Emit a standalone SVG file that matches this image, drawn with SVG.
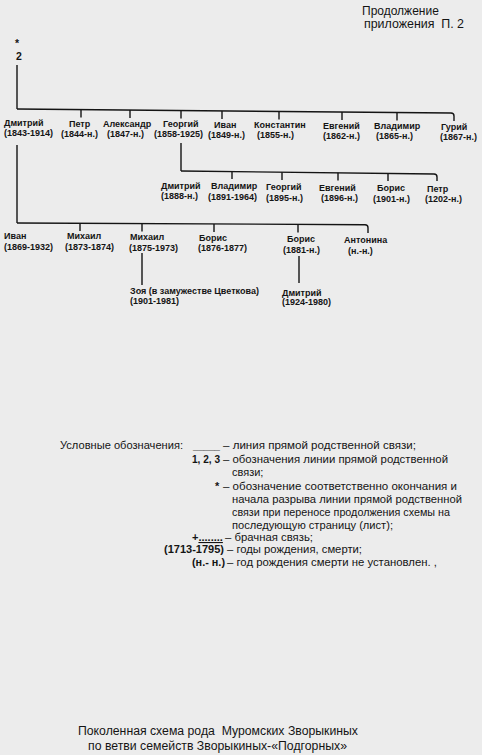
<svg xmlns="http://www.w3.org/2000/svg" width="482" height="755" viewBox="0 0 482 755">
<style>
.n{font-family:"Liberation Sans",Arial,sans-serif;font-size:9px;font-weight:bold;fill:#141414}
.l{font-family:"Liberation Sans",Arial,sans-serif;font-size:11px;fill:#141414}
.lb{font-family:"Liberation Sans",Arial,sans-serif;font-size:11px;font-weight:bold;fill:#141414}
.t{font-family:"Liberation Sans",Arial,sans-serif;font-size:12px;fill:#141414}
.m{font-family:"Liberation Sans",Arial,sans-serif;font-size:10.5px;font-weight:bold;fill:#141414}
.c{fill:none;stroke:#141414;stroke-width:1.4}
</style>
<rect width="482" height="755" fill="#ececec"/>
<g id="header">
<text class="t" x="362" y="15">Продолжение</text>
<text class="t" x="364" y="28" xml:space="preserve" textLength="100" lengthAdjust="spacingAndGlyphs">приложения  П. 2</text>
</g>
<g id="marker-2">
<text class="m" x="15" y="47">*</text>
<text class="m" x="16" y="60">2</text>
</g>
<g id="connectors">
<path class="c" stroke-width="1.8" d="M17 65V109M17 145V223"/>
<path class="c" d="M17 109L451 113Q454 113 454 116V121"/>
<path class="c" d="M81 109.6V117.5M130 110V118M181 110.5V118.5M222 111V119M279 111.4V119.5M342 112V120M397 112.5V120.5"/>
<path class="c" stroke-width="1.6" d="M181 143V171"/>
<path class="c" d="M181 171L434 174Q437 174 437 177V181"/>
<path class="c" d="M232 171.6V179M282 172.2V180M338 172.8V180.5M388 173.4V181"/>
<path class="c" d="M17 223L365 224.7Q368 224.7 368 227.7V233"/>
<path class="c" d="M80 223.3V231M142 223.6V231.5M214 224V232M298 224.3V232.5"/>
<path class="c" stroke-width="1.6" d="M142 253V285M299 256V283"/>
</g>
<g id="g1-dmitriy"><text class="n" x="4" y="126">Дмитрий</text><text class="n" x="4" y="136">(1843-1914)</text></g>
<g id="g1-petr"><text class="n" x="69" y="126.5">Петр</text><text class="n" x="61" y="136.5">(1844-н.)</text></g>
<g id="g1-aleksandr"><text class="n" x="103" y="127">Александр</text><text class="n" x="107" y="137">(1847-н.)</text></g>
<g id="g1-georgiy"><text class="n" x="163" y="127">Георгий</text><text class="n" x="154" y="137">(1858-1925)</text></g>
<g id="g1-ivan"><text class="n" x="214" y="127.5">Иван</text><text class="n" x="208" y="137.5">(1849-н.)</text></g>
<g id="g1-konstantin"><text class="n" x="254" y="128">Константин</text><text class="n" x="257" y="138">(1855-н.)</text></g>
<g id="g1-evgeniy"><text class="n" x="323" y="128.5">Евгений</text><text class="n" x="323" y="138.5">(1862-н.)</text></g>
<g id="g1-vladimir"><text class="n" x="374" y="129">Владимир</text><text class="n" x="376" y="139">(1865-н.)</text></g>
<g id="g1-guriy"><text class="n" x="441" y="129.5">Гурий</text><text class="n" x="440" y="139.5">(1867-н.)</text></g>
<g id="g2-dmitriy"><text class="n" x="161" y="188.5">Дмитрий</text><text class="n" x="161" y="199">(1888-н.)</text></g>
<g id="g2-vladimir"><text class="n" x="211" y="189">Владимир</text><text class="n" x="208" y="199.5">(1891-1964)</text></g>
<g id="g2-georgiy"><text class="n" x="266" y="190">Георгий</text><text class="n" x="266" y="200.5">(1895-н.)</text></g>
<g id="g2-evgeniy"><text class="n" x="319" y="190.5">Евгений</text><text class="n" x="321" y="201">(1896-н.)</text></g>
<g id="g2-boris"><text class="n" x="377" y="191">Борис</text><text class="n" x="373" y="201.5">(1901-н.)</text></g>
<g id="g2-petr"><text class="n" x="427" y="191.5">Петр</text><text class="n" x="425" y="202">(1202-н.)</text></g>
<g id="g3-ivan"><text class="n" x="4" y="238.5">Иван</text><text class="n" x="4" y="249.5">(1869-1932)</text></g>
<g id="g3-mikhail1"><text class="n" x="67" y="239">Михаил</text><text class="n" x="65" y="250">(1873-1874)</text></g>
<g id="g3-mikhail2"><text class="n" x="130" y="239.5">Михаил</text><text class="n" x="129" y="250.5">(1875-1973)</text></g>
<g id="g3-boris1"><text class="n" x="199" y="240.5">Борис</text><text class="n" x="198" y="251">(1876-1877)</text></g>
<g id="g3-boris2"><text class="n" x="287" y="242">Борис</text><text class="n" x="283" y="253">(1881-н.)</text></g>
<g id="g3-antonina"><text class="n" x="344" y="243">Антонина</text><text class="n" x="348" y="253.5">(н.-н.)</text></g>
<g id="g4-zoya"><text class="n" x="130" y="294">Зоя (в замужестве Цветкова)</text><text class="n" x="130" y="303.5">(1901-1981)</text></g>
<g id="g4-dmitriy"><text class="n" x="282" y="295.5">Дмитрий</text><text class="n" x="282" y="305">(1924-1980)</text></g>
<g id="legend">
<text class="l" x="60" y="449" textLength="123" lengthAdjust="spacingAndGlyphs">Условные обозначения:</text>
<text class="lb" x="193" y="449" textLength="27" lengthAdjust="spacingAndGlyphs">_____</text>
<text class="l" x="223" y="449" textLength="193" lengthAdjust="spacingAndGlyphs">– линия прямой родственной связи;</text>
<text class="lb" x="192" y="463" textLength="28" lengthAdjust="spacingAndGlyphs">1, 2, 3</text>
<text class="l" x="223" y="463" textLength="225" lengthAdjust="spacingAndGlyphs">– обозначения линии прямой родственной</text>
<text class="l" x="232" y="476">связи;</text>
<text class="lb" x="215" y="490">*</text>
<text class="l" x="223" y="490" textLength="234" lengthAdjust="spacingAndGlyphs">– обозначение соответственно окончания и</text>
<text class="l" x="232" y="503" textLength="230" lengthAdjust="spacingAndGlyphs">начала разрыва линии прямой родственной</text>
<text class="l" x="232" y="516" textLength="218" lengthAdjust="spacingAndGlyphs">связи при переносе продолжения схемы на</text>
<text class="l" x="232" y="529" textLength="161" lengthAdjust="spacingAndGlyphs">последующую страницу (лист);</text>
<text class="lb" x="192" y="541">+<tspan text-decoration="underline">........</tspan></text>
<text class="l" x="225" y="541" textLength="88" lengthAdjust="spacingAndGlyphs">– брачная связь;</text>
<text class="lb" x="164" y="553" textLength="60" lengthAdjust="spacingAndGlyphs">(1713-1795)</text>
<text class="l" x="227" y="553" textLength="135" lengthAdjust="spacingAndGlyphs">– годы рождения, смерти;</text>
<text class="lb" x="192" y="566" textLength="33" lengthAdjust="spacingAndGlyphs">(н.- н.)</text>
<text class="l" x="227" y="566" textLength="210" lengthAdjust="spacingAndGlyphs">– год рождения смерти не установлен. ,</text>
</g>
<g id="title">
<text class="t" x="78" y="735" xml:space="preserve" textLength="280" lengthAdjust="spacingAndGlyphs">Поколенная схема рода  Муромских Зворыкиных</text>
<text class="t" x="88" y="750" textLength="259" lengthAdjust="spacingAndGlyphs">по ветви семейств Зворыкиных-«Подгорных»</text>
</g>
</svg>
